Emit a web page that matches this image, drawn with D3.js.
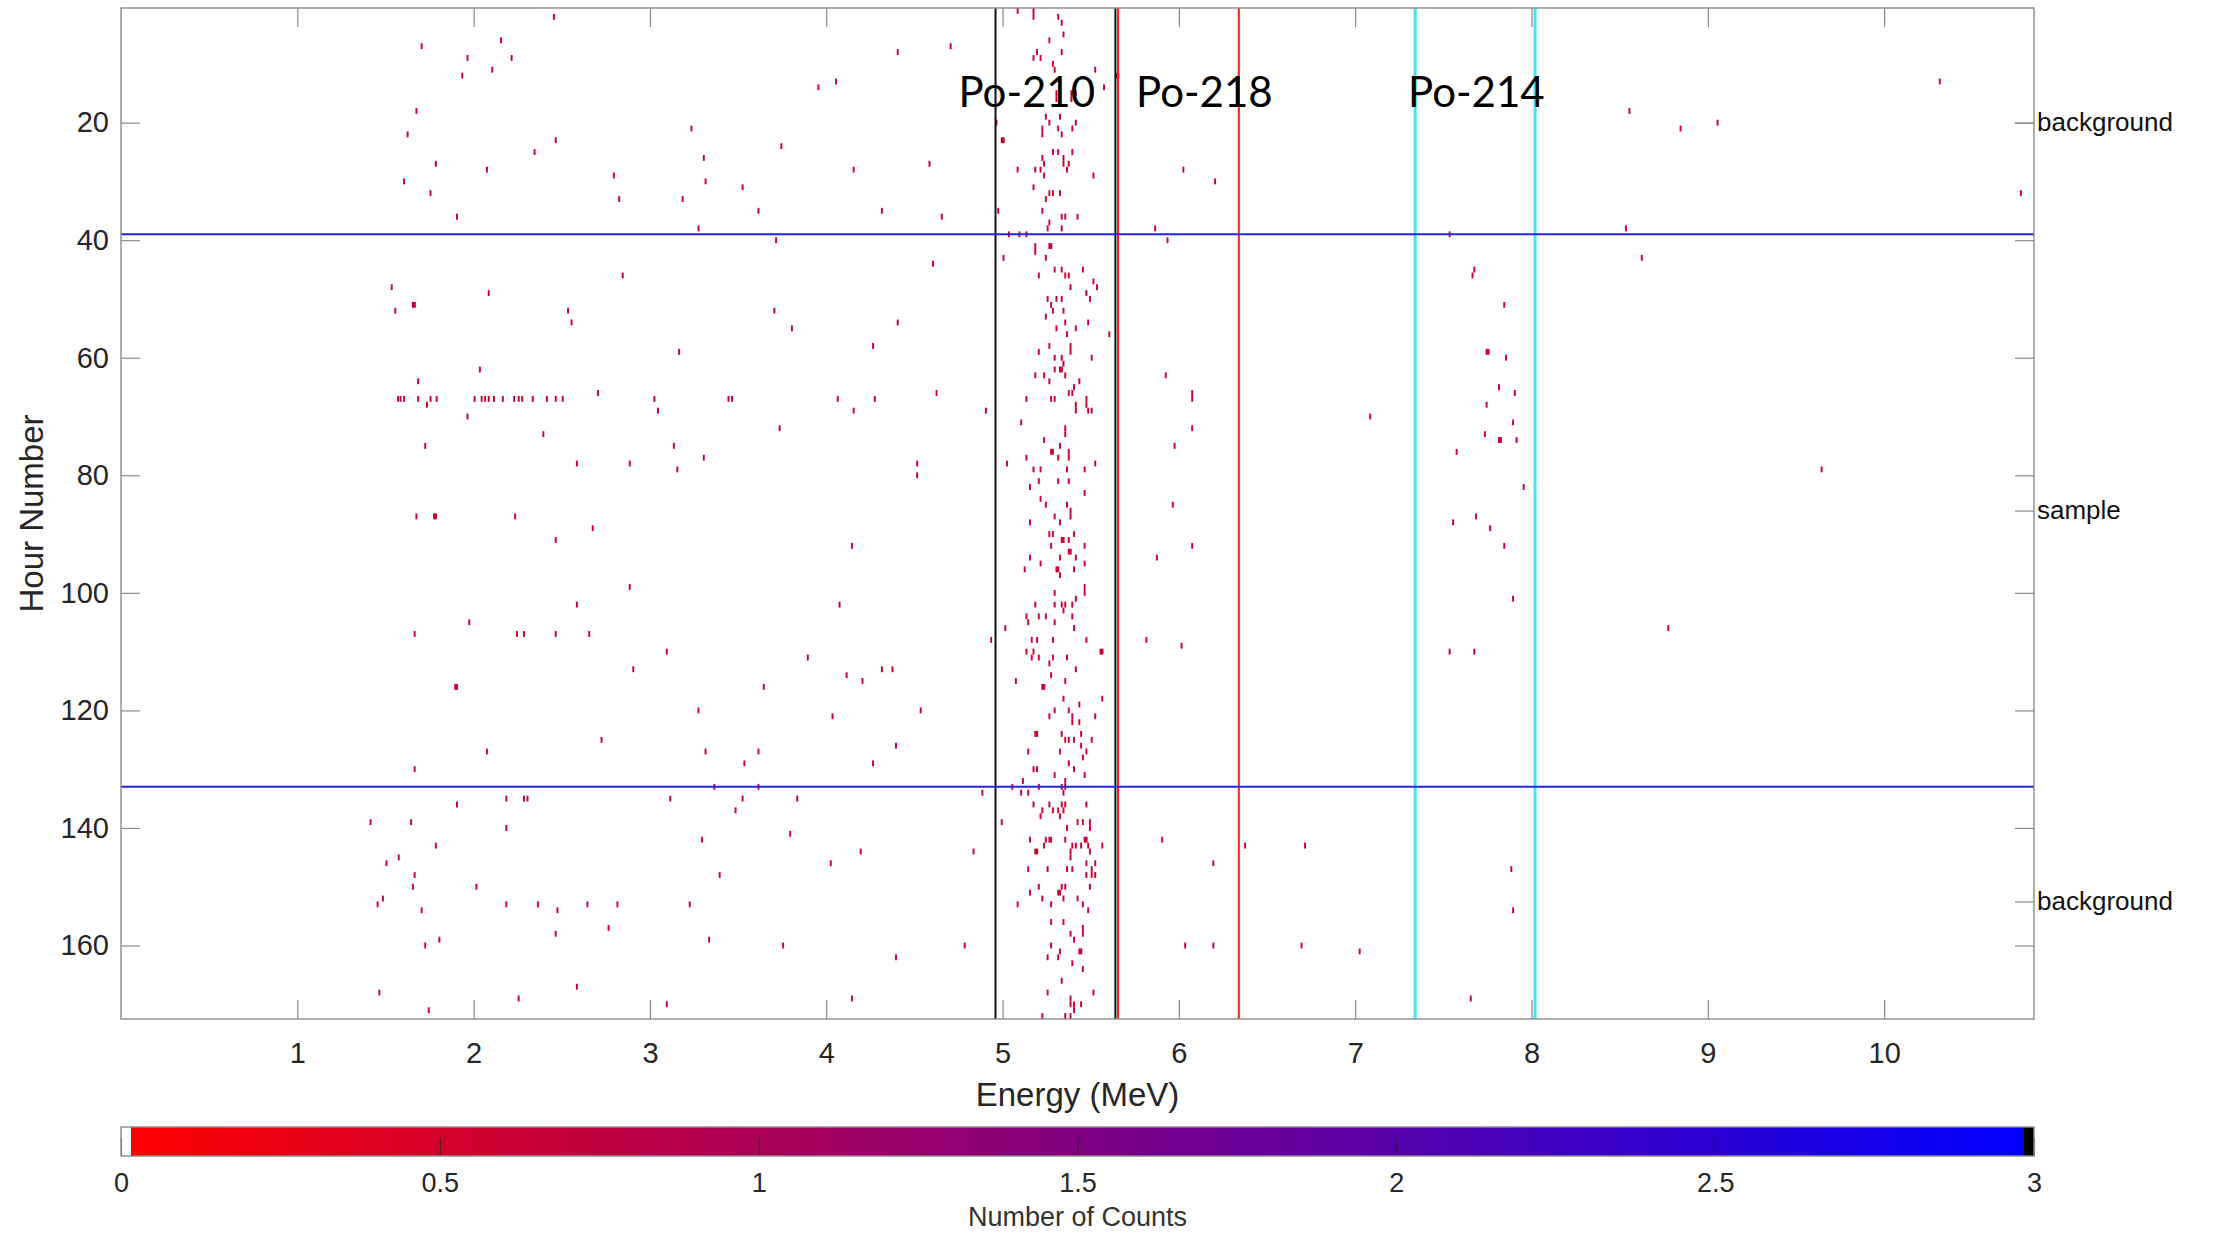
<!DOCTYPE html>
<html>
<head>
<meta charset="utf-8">
<script src="https://cdn.jsdelivr.net/npm/d3@7"></script>
<style>
  body { margin: 0; background: #fff; }
  svg { display: block; font-family: "Liberation Sans", Arial, Helvetica, sans-serif; }
</style>
</head>
<body>
<div id="chart"></div>
<script>
// ---- data ----
// single hits: [energy MeV, hour]
var hits = [
  [2.45,2],[1.70,7],[2.15,6],[1.96,9],[2.21,9],[2.10,11],[1.93,12],[4.70,7],[4.40,8],[4.05,13],[3.95,14],[1.67,18],[4.96,20],
  [1.62,22],[2.46,23],[3.23,21],[2.34,25],[3.74,24],[3.30,26],[1.78,27],[4.58,27],[2.07,28],[4.15,28],[2.79,29],[1.60,30],
  [3.31,30],[3.52,31],[1.75,32],[2.82,33],[3.18,33],[3.61,35],[4.31,35],[4.97,35],[1.90,36],[4.65,36],[3.27,38],[3.71,40],
  [4.60,44],[2.84,46],[1.53,48],[2.08,49],[1.55,52],[2.53,52],[3.70,52],[2.55,54],[4.40,54],[3.80,55],[3.16,59],[4.26,58],
  [2.03,62],[1.68,64],[2.70,66],[4.62,66],
  [1.566,67],[1.58,67],[1.60,67],[1.68,67],[1.75,67],[1.785,67],[2.00,67],[2.04,67],[2.06,67],[2.08,67],[2.11,67],[2.16,67],
  [2.25,67],[2.27,67],[2.33,67],[2.41,67],[2.46,67],[2.50,67],[3.02,67],[3.44,67],[3.46,67],[4.06,67],[4.27,67],
  [1.73,68],[3.04,69],[4.15,69],[4.90,69],[1.96,70],[3.73,72],[2.39,73],[1.72,75],[3.13,75],[3.30,77],[2.58,78],[2.88,78],
  [4.51,78],[3.15,79],[4.51,80],
  [1.67,87],[2.23,87],[2.67,89],[2.46,91],[4.14,92],[2.88,99],[2.58,102],[4.07,102],[1.97,105],[1.66,107],[2.24,107],
  [2.28,107],[2.46,107],[2.65,107],[4.93,108],[3.09,110],[3.89,111],[2.90,113],[4.31,113],[4.37,113],[4.11,114],[4.20,115],
  [3.64,116],[3.27,120],[4.03,121],[4.53,120],[2.72,125],[2.07,127],[3.31,127],[3.61,127],[4.39,126],[3.53,129],[4.26,129],
  [1.66,130],[3.36,133],[3.61,133],[2.18,135],[2.28,135],[2.30,135],[3.11,135],[3.52,135],[3.83,135],[4.88,134],[1.90,136],
  [3.48,137],[1.41,139],[1.64,139],[2.18,140],[3.79,141],[3.29,142],[1.78,143],[4.19,144],[4.83,144],[1.57,145],[1.50,146],
  [4.02,146],[1.66,148],[3.39,148],[1.65,150],[2.01,150],[1.48,152],[1.45,153],[2.18,153],[2.36,153],[2.64,153],[2.81,153],
  [3.22,153],[1.70,154],[2.47,154],[2.76,157],[2.46,158],[1.80,159],[3.33,159],[1.72,160],[3.75,160],[4.78,160],[4.39,162],
  [2.58,167],[1.46,168],[2.25,169],[4.14,169],[3.09,170],[1.74,171],
  [5.08,1],[5.17,1],[5.17,2],[5.31,2],[5.33,3],[5.34,5],[5.26,6],[5.33,8],[5.17,9],[5.19,8],[5.21,9],[5.28,10],[5.29,11],
  [5.52,11],[5.57,14],[5.385,15],[5.385,16],[5.30,15],[5.30,16],[5.41,15],[5.24,19],[5.32,19],[5.26,20],[5.41,20],[5.22,21],
  [5.22,22],[5.31,21],[5.39,21],[5.33,22],[5.28,25],[5.31,25],[5.39,25],[5.22,26],[5.23,27],[5.34,26],[5.34,27],[5.37,27],
  [5.08,28],[5.18,28],[5.21,28],[5.36,28],[5.23,29],[5.51,29],[5.17,31],[5.26,32],[5.28,32],[5.32,32],[5.24,33],[5.22,35],
  [5.33,36],[5.35,36],[5.42,36],[5.26,37],[5.25,38],[5.33,38],[5.03,39],[5.09,39],[5.13,39],[5.18,41],[5.18,42],[5.00,43],
  [5.24,43],[5.29,45],[5.33,45],[5.45,45],[5.20,46],[5.35,46],[5.37,46],[5.51,47],[5.53,48],[5.38,48],[5.47,49],[5.49,50],
  [5.25,50],[5.30,50],[5.33,50],[5.27,51],[5.28,52],[5.34,52],[5.24,53],[5.48,54],[5.35,54],[5.30,55],[5.41,55],[5.36,56],
  [5.60,56],[5.26,58],[5.38,58],[5.38,59],[5.20,59],[5.29,60],[5.33,60],[5.50,60],[5.34,61],[5.29,62],[5.18,63],[5.23,63],
  [5.35,63],[5.26,64],[5.43,64],[5.40,65],[5.37,66],[5.39,66],[5.13,67],[5.27,67],[5.29,67],[5.47,67],[5.41,68],[5.41,69],
  [5.47,68],[5.48,69],[5.50,69],[5.10,71],[5.35,72],[5.35,73],[5.23,74],[5.32,75],[5.27,76],[5.28,76],[5.37,76],[5.13,77],
  [5.31,77],[5.37,77],[5.02,78],[5.52,78],[5.17,79],[5.21,79],[5.36,79],[5.46,79],[5.20,81],[5.31,81],[5.37,81],[5.15,82],
  [5.46,83],[5.21,84],[5.36,85],[5.24,85],[5.38,86],
  [5.29,87],[5.38,87],[5.15,88],[5.32,88],[5.26,90],[5.28,90],[5.40,90],[5.37,91],[5.27,92],[5.46,92],[5.15,94],[5.32,94],
  [5.41,94],[5.21,95],[5.46,95],[5.12,96],[5.32,97],[5.40,96],[5.29,100],[5.46,99],[5.46,100],[5.41,101],[5.18,102],
  [5.29,102],[5.33,102],[5.35,102],[5.34,103],[5.39,102],[5.13,104],[5.20,104],[5.24,104],[5.39,104],[5.14,105],[5.29,105],
  [5.01,106],[5.40,106],[5.16,108],[5.19,108],[5.28,108],[5.47,108],[5.13,110],[5.17,110],[5.16,111],[5.20,111],[5.28,111],
  [5.36,111],[5.26,112],[5.41,113],[5.27,114],[5.07,115],[5.35,115],[5.34,118],[5.56,118],[5.43,119],[5.29,120],[5.37,120],
  [5.26,121],[5.39,121],[5.39,122],[5.43,122],[5.52,121],[5.33,124],[5.35,125],[5.37,125],[5.40,125],[5.44,124],[5.50,125],
  [5.44,126],[5.47,127],[5.14,127],[5.32,127],[5.45,128],[5.37,129],[5.40,130],[5.17,130],[5.19,130],[5.29,131],[5.46,131],
  [5.35,132],[5.11,132],[5.05,133],[5.20,133],[5.33,133],[5.35,133],[5.10,134],[5.14,134],[5.34,134],[5.17,136],[5.26,136],
  [5.33,136],[5.35,136],[5.47,136],[5.22,137],[5.28,137],[5.31,137],[5.34,137],[5.21,138],[5.32,138],[4.99,139],[5.42,139],
  [5.45,139],[5.49,139],[5.49,140],[5.36,140],[5.15,142],[5.24,142],[5.26,142],[5.27,142],[5.35,142],[5.23,143],[5.39,143],
  [5.41,143],[5.44,143],[5.48,143],[5.56,143],[5.38,144],[5.38,145],[5.49,144],[5.47,146],[5.52,146],[5.14,147],[5.25,147],
  [5.36,147],[5.39,147],[5.50,147],[5.50,148],[5.52,148],[5.47,148],[5.20,150],[5.33,150],[5.35,150],[5.49,150],[5.15,151],
  [5.22,152],[5.34,152],[5.42,152],[5.08,153],[5.27,153],[5.45,153],[5.48,154],[5.27,156],[5.34,156],[5.45,157],[5.45,158],
  [5.38,158],[5.40,159],[5.27,160],[5.32,161],[5.25,162],[5.31,162],[5.39,163],[5.45,164],[5.33,166],[5.25,168],[5.51,168],
  [5.38,169],[5.38,170],[5.40,170],[5.40,171],[5.44,170],[5.22,172],[5.35,172],[5.38,172],
  [10.31,13],[8.55,18],[8.84,21],[9.05,20],[6.02,28],[6.20,30],[10.77,32],[5.86,38],[5.93,40],[7.53,39],[8.53,38],[8.62,43],
  [7.67,45],[7.66,46],[7.84,51],[7.85,60],[5.92,63],[7.81,65],[7.90,66],[6.07,66],[6.07,67],[7.74,68],[6.07,72],[7.08,70],
  [7.73,73],[7.91,74],[7.89,71],[5.97,75],[7.57,76],[7.95,82],[9.64,79],[5.96,85],[7.68,87],[7.55,88],[7.76,89],[7.84,92],
  [6.07,92],[5.87,94],[7.89,101],[8.77,106],[5.81,108],[6.01,109],[7.53,110],[7.67,110],[5.90,142],[6.19,146],[6.37,143],
  [6.71,143],[7.88,147],[7.89,154],[6.03,160],[6.19,160],[6.69,160],[7.02,161],[7.65,169]
];
// wider (two-channel) hits
var wideHits = [
  [1.65,51],[1.77,87],[1.89,116],[4.99,23],[5.26,41],[5.32,62],[5.33,91],[5.37,93],[5.30,96],[5.55,110],[5.22,116],
  [5.18,124],[5.46,142],[5.18,144],[5.31,151],[5.43,161],[5.64,12],[7.74,59],[7.81,74]
];
// higher-level hits
var highHits = [[2.225,67]];
var hitLevel = 0.6, highLevel = 1.3;
var channelWidth = 0.011;

var xTicks = [1,2,3,4,5,6,7,8,9,10];
var yTicks = [20,40,60,80,100,120,140,160];
var countTicks = [0,0.5,1,1.5,2,2.5,3];

var sectionBreaks = [39, 133];
var sectionNames = ["background", "sample", "background"];
var sectionMid = [20, 86, 152.5];

var windowEdges = [4.96, 5.64, 5.655, 6.34, 7.34, 8.02];
var windowIsotope = ["Po-210", "Po-210", "Po-218", "Po-218", "Po-214", "Po-214"];
var isotopes = ["Po-210", "Po-218", "Po-214"];
var isotopeLabelE = [4.75, 5.757, 7.30];

// ---- layout ----
var W = 2213, H = 1237;
var plot = {left: 121, right: 2034, top: 8, bottom: 1019};
var bar = {top: 1127, bottom: 1156};
var axisGrey = "#8a8a8a", textCol = "#262626";

var svg = d3.select("#chart").append("svg")
    .attr("width", W)
    .attr("height", H);

var x = d3.scaleLinear().domain([0, 10.85]).range([plot.left, plot.right]);
var y = d3.scaleLinear().domain([0.5, 172.5]).range([plot.top, plot.bottom]);
var cb = d3.scaleLinear().domain([0, 3]).range([plot.left, plot.right]);

// colormap: white, red -> blue, black
var nLevels = 190;
function countColor(v) {
    var step = 3 / nLevels;
    if (v < step) return "#ffffff";
    if (v > 3 - step) return "#000000";
    return d3.interpolateRgb("rgb(255,0,0)", "rgb(0,0,255)")(v / 3);
}

var isoColor = d3.scaleOrdinal()
    .domain(isotopes)
    .range(["#111111", "#ff1a1a", "#3ee8f0"]);

// cells
var cells = hits.map(d => ({e: d[0], h: d[1], n: 1, v: hitLevel}))
    .concat(wideHits.map(d => ({e: d[0], h: d[1], n: 2, v: hitLevel})))
    .concat(highHits.map(d => ({e: d[0], h: d[1], n: 1, v: highLevel})));

svg.append("g").selectAll("rect")
    .data(cells)
    .join("rect")
    .attr("x", d => x(d.e))
    .attr("y", d => y(d.h - 0.5))
    .attr("width", d => x(d.e + channelWidth * d.n) - x(d.e))
    .attr("height", d => y(d.h + 0.5) - y(d.h - 0.5))
    .attr("fill", d => countColor(d.v));

// window edges
svg.append("g").selectAll("line")
    .data(windowEdges)
    .join("line")
    .attr("x1", d => x(d)).attr("x2", d => x(d))
    .attr("y1", plot.top).attr("y2", plot.bottom)
    .attr("stroke", (d, i) => isoColor(windowIsotope[i]))
    .attr("stroke-width", (d, i) => windowIsotope[i] === "Po-214" ? 3 : 2);

// section breaks
svg.append("g").selectAll("line")
    .data(sectionBreaks)
    .join("line")
    .attr("x1", plot.left).attr("x2", plot.right)
    .attr("y1", d => y(d)).attr("y2", d => y(d))
    .attr("stroke", "#2424e0")
    .attr("stroke-width", 2);

// axes
function styleAxis(g) {
    g.select(".domain").remove();
    g.selectAll(".tick line").attr("stroke", axisGrey).attr("stroke-width", 1.2);
    g.selectAll(".tick text").attr("fill", textCol).style("font-size", "29px")
        .style("font-family", "'Liberation Sans', Arial, sans-serif");
}

svg.append("g")
    .attr("transform", `translate(0,${plot.bottom})`)
    .call(d3.axisBottom(x).tickValues(xTicks).tickSize(-19).tickSizeOuter(0).tickPadding(23).tickFormat(d3.format("d")))
    .call(styleAxis);

svg.append("g")
    .attr("transform", `translate(0,${plot.top})`)
    .call(d3.axisTop(x).tickValues(xTicks).tickSize(-19).tickSizeOuter(0).tickFormat(""))
    .call(styleAxis);

svg.append("g")
    .attr("transform", `translate(${plot.left},0)`)
    .call(d3.axisLeft(y).tickValues(yTicks).tickSize(-19).tickSizeOuter(0).tickPadding(12).tickFormat(d3.format("d")))
    .call(styleAxis);

svg.append("g")
    .attr("transform", `translate(${plot.right},0)`)
    .call(d3.axisRight(y).tickValues(yTicks).tickSize(-19).tickSizeOuter(0).tickFormat(""))
    .call(styleAxis);

svg.append("g")
    .attr("transform", `translate(${plot.right},0)`)
    .call(d3.axisRight(y).tickValues(sectionMid).tickSize(-19).tickSizeOuter(0).tickPadding(3)
        .tickFormat((d, i) => sectionNames[i]))
    .call(styleAxis)
    .call(g => g.selectAll(".tick text").style("font-size", "26px").attr("fill", "#111"));

// box
svg.append("rect")
    .attr("x", plot.left).attr("y", plot.top)
    .attr("width", plot.right - plot.left).attr("height", plot.bottom - plot.top)
    .attr("fill", "none").attr("stroke", axisGrey).attr("stroke-width", 1.4);

// isotope labels
svg.append("g").selectAll("text")
    .data(isotopes)
    .join("text")
    .attr("x", (d, i) => x(isotopeLabelE[i]))
    .attr("y", y(17.3))
    .style("font-family", "Lato, 'Open Sans', sans-serif")
    .style("font-size", "42px")
    .attr("fill", "#000")
    .text(d => d);

// axis titles
svg.append("text")
    .attr("x", (plot.left + plot.right) / 2)
    .attr("y", 1106)
    .style("text-anchor", "middle")
    .style("font-size", "33px")
    .attr("fill", textCol)
    .text("Energy (MeV)");

svg.append("text")
    .attr("transform", `translate(43, ${(plot.top + plot.bottom) / 2}) rotate(-90)`)
    .style("text-anchor", "middle")
    .style("font-size", "33px")
    .attr("fill", textCol)
    .text("Hour Number");

// colorbar
var step = 3 / nLevels;
svg.append("g").selectAll("rect")
    .data(d3.range(nLevels))
    .join("rect")
    .attr("x", i => cb(i * step))
    .attr("y", bar.top)
    .attr("width", i => Math.min(cb((i + 1) * step) + 1.5, plot.right) - cb(i * step))
    .attr("height", bar.bottom - bar.top)
    .attr("shape-rendering", "crispEdges")
    .attr("fill", i => countColor((i + 0.5) * step));

svg.append("g")
    .attr("transform", `translate(0,${bar.bottom})`)
    .call(d3.axisBottom(cb).tickValues(countTicks).tickSize(-18).tickSizeOuter(0).tickPadding(17).tickFormat(d => String(d)))
    .call(styleAxis)
    .call(g => {
        g.selectAll(".tick line").attr("stroke", "#222").attr("stroke-opacity", 0.6);
        g.selectAll(".tick text").style("font-size", "27px");
    });

svg.append("rect")
    .attr("x", plot.left).attr("y", bar.top)
    .attr("width", plot.right - plot.left).attr("height", bar.bottom - bar.top)
    .attr("fill", "none").attr("stroke", axisGrey).attr("stroke-width", 1.4);

svg.append("text")
    .attr("x", (plot.left + plot.right) / 2)
    .attr("y", 1226)
    .style("text-anchor", "middle")
    .style("font-size", "27px")
    .attr("fill", "#333")
    .text("Number of Counts");
</script>
</body>
</html>
